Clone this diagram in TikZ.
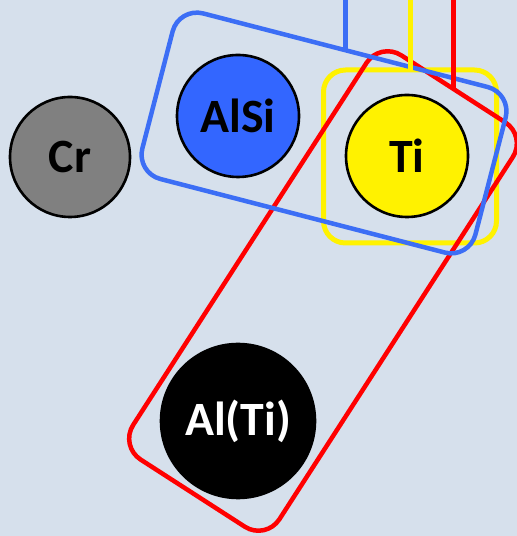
\documentclass[tikz,border=0pt]{standalone}
\usepackage{fontspec}
\setmainfont{Carlito}
\definecolor{bg}{RGB}{214,224,236}
\definecolor{myblue}{RGB}{51,102,255}
\definecolor{lineblue}{RGB}{60,110,245}
\definecolor{mygray}{RGB}{128,128,128}
\begin{document}
\begin{tikzpicture}[x=1bp,y=1bp,
  elem/.style={circle,draw=black,line width=2.6bp,inner sep=0pt,outer sep=0pt,font=\fontsize{48}{48}\selectfont\bfseries},
  groupbox/.style={draw,rectangle,line width=4.5bp,inner sep=0pt,outer sep=0pt,fill=none},
  link/.style={line width=4.5bp}]
\fill[bg] (0,0) rectangle (517,536);
\useasboundingbox (0,0) rectangle (517,536);
\coordinate (top) at (0,540);
% groups
\node[groupbox,draw=yellow,line width=5bp,minimum width=173bp,minimum height=173bp,rounded corners=22bp] (yel) at (410,379.5) {};
\node[groupbox,draw=red,minimum width=174bp,minimum height=481bp,rounded corners=25bp,rotate=-32.8] (red) at (323,245) {};
\node[groupbox,draw=lineblue,minimum width=344bp,minimum height=171bp,rounded corners=25bp,rotate=-14.5] (blu) at (324,403) {};
% connectors
\draw[link,yellow,line width=5bp] (yel.north |- top) -- (yel.north);
\draw[link,red] (red.north |- top) -- (red.north);
\draw[link,lineblue] (blu.north |- top) -- (blu.north);
% elements
\node[elem,fill=mygray,minimum size=120bp] (cr) at (70,379) {Cr};
\node[elem,fill=myblue,minimum size=122bp] (alsi) at (238,420) {AlSi};
\node[elem,fill=yellow,minimum size=122bp] (ti) at (407,380) {Ti};
\node[elem,fill=black,text=white,minimum size=154bp] (alti) at (238,115) {Al(Ti)};
\end{tikzpicture}
\end{document}
